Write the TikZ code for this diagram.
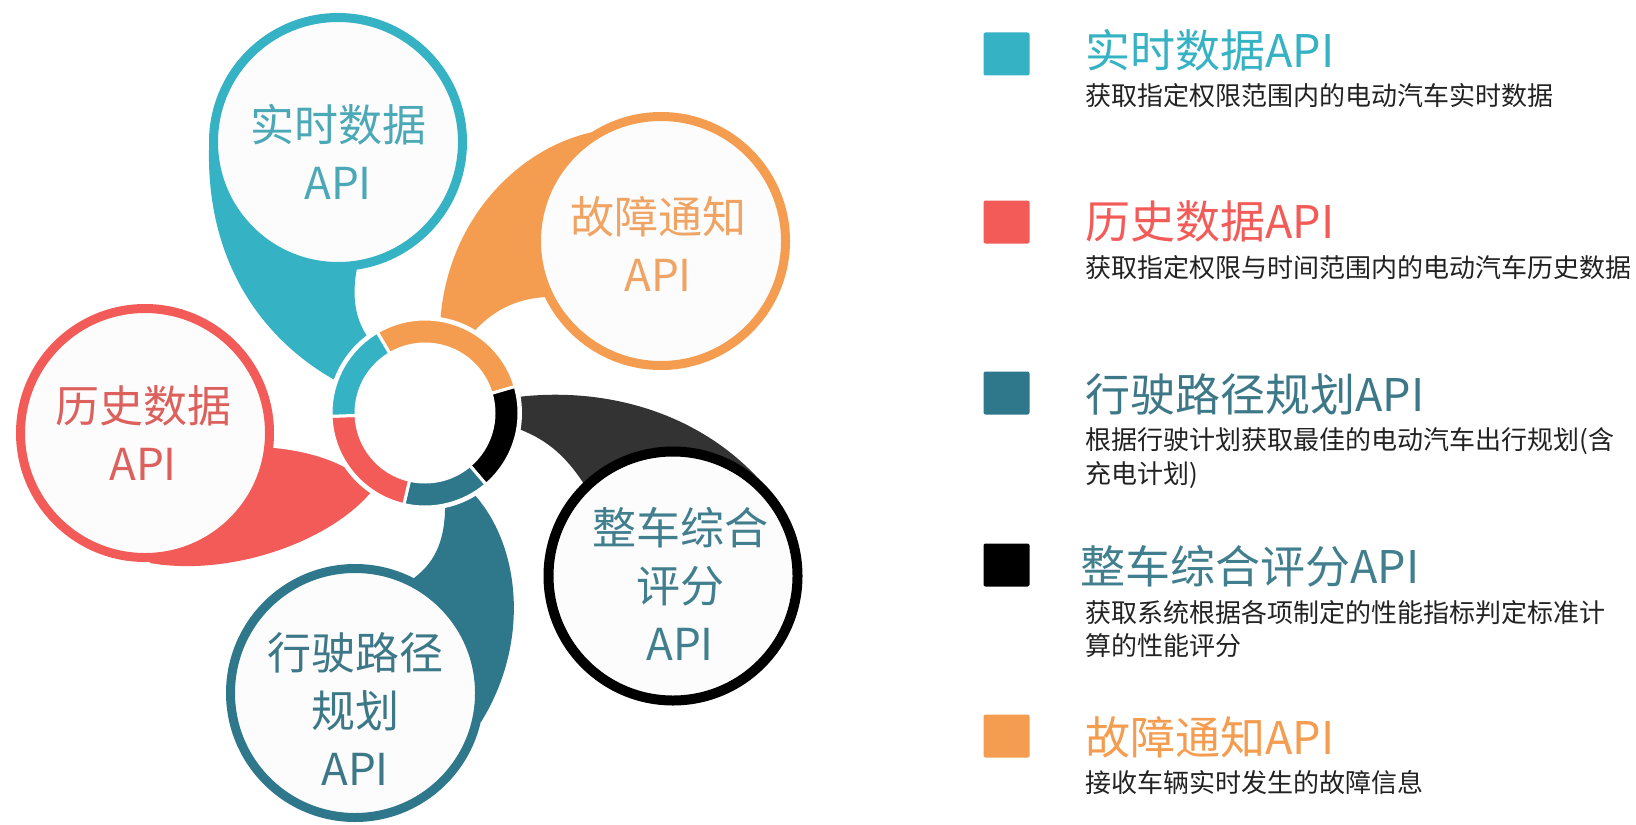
\documentclass[tikz,border=0pt]{standalone}
\usepackage{fontspec}
\setmainfont{Noto Sans CJK SC}
\definecolor{cTeal}{HTML}{35B2C3}
\definecolor{cTealTxt}{HTML}{4AA8B7}
\definecolor{cOrange}{HTML}{F49D50}
\definecolor{cOrangeTxt}{HTML}{EFA464}
\definecolor{cRed}{HTML}{F25B57}
\definecolor{cRedTxt}{HTML}{DC605C}
\definecolor{cDeep}{HTML}{2F788C}
\definecolor{cDeepTxt}{HTML}{3D7888}
\definecolor{cGrey}{HTML}{333333}
\definecolor{cScoreTxt}{HTML}{417E8E}
\definecolor{cFill}{HTML}{FCFCFC}
\definecolor{cDesc}{HTML}{222222}
\begin{document}
\begin{tikzpicture}[x=0.5pt,y=-0.5pt,
  bubble/.style={circle, minimum size=124.5pt, inner sep=0pt, line width=4.5pt,
    fill=cFill},
  bubtext/.style={inner sep=0pt, align=center, font=\fontsize{22pt}{29pt}\selectfont},
  tail/.style={draw=none},
  ringseg/.style={draw=white, line width=1.5pt},
  legsq/.style={rectangle, minimum width=23pt, minimum height=21.5pt,
    inner sep=0pt, rounded corners=1pt},
  legtitle/.style={anchor=west, inner sep=0pt, font=\fontsize{22.5pt}{27pt}\selectfont},
  legdesc/.style={anchor=west, inner sep=0pt, text=cDesc, font=\fontsize{13pt}{16pt}\selectfont}]

% canvas
\fill[white] (0,0) rectangle (1636,824);
\useasboundingbox (0,0) rectangle (1636,824);

% centres
\coordinate (hub) at (425,413);
\coordinate (pRT) at (338,142);
\coordinate (pFT) at (661,241);
\coordinate (pHD) at (145,433);
\coordinate (pZC) at (673,576);
\coordinate (pXS) at (355,693);

% tails sweeping from each bubble into the hub
\fill[cTeal, tail] (pRT) -- (209,150) .. controls (207,262) and (262,342) .. (342,384)
  -- (hub) -- (380,352) .. controls (358,330) and (350,305) .. (357,268) -- cycle;
\fill[cOrange, tail] (pFT) -- (598,131) .. controls (520,145) and (445,220) .. (440,326)
  -- (hub) -- (470,336) .. controls (490,312) and (515,298) .. (548,297) -- cycle;
\fill[cGrey, tail] (pZC) -- (765,486) .. controls (700,410) and (600,385) .. (510,398)
  -- (hub) -- (510,426) .. controls (545,437) and (565,455) .. (584,484) -- cycle;
\fill[cDeep, tail] (pXS) -- (481,722) .. controls (532,640) and (520,540) .. (470,490)
  -- (hub) -- (445,500) .. controls (446,535) and (438,560) .. (414,578) -- cycle;
\fill[cRed, tail] (pHD) -- (274,448) .. controls (315,452) and (350,465) .. (366,484)
  -- (hub) -- (372,491) .. controls (330,542) and (230,577) .. (150,563) -- cycle;

% white gap around the hub ring
\fill[white] (hub) circle[radius=97];

% hub ring segments
\begin{scope}[shift={(hub)}]
  \fill[cOrange, ringseg] (-120.6:94) arc[start angle=-120.6, end angle=-16.4, radius=94]
    -- (-16.4:69) arc[start angle=-16.4, end angle=-120.6, radius=69] -- cycle;
  \fill[black, ringseg] (-16.4:94) arc[start angle=-16.4, end angle=49.5, radius=94]
    -- (49.5:69) arc[start angle=49.5, end angle=-16.4, radius=69] -- cycle;
  \fill[cDeep, ringseg] (49.5:94) arc[start angle=49.5, end angle=103, radius=94]
    -- (103:69) arc[start angle=103, end angle=49.5, radius=69] -- cycle;
  \fill[cRed, ringseg] (103:94) arc[start angle=103, end angle=178, radius=94]
    -- (178:69) arc[start angle=178, end angle=103, radius=69] -- cycle;
  \fill[cTeal, ringseg] (178:94) arc[start angle=178, end angle=239.4, radius=94]
    -- (239.4:69) arc[start angle=239.4, end angle=178, radius=69] -- cycle;
\end{scope}

% bubbles
\node[bubble, draw=cTeal] (rt) at (pRT) {};
\node[bubble, draw=cOrange] (ft) at (pFT) {};
\node[bubble, draw=cRed] (hd) at (pHD) {};
\node[bubble, draw=black, line width=5pt] (zc) at (pZC) {};
\node[bubble, draw=cDeep] (xs) at (pXS) {};

% bubble captions
\node[bubtext, text=cTealTxt] (rtl) at (338,152) {实时数据\\API};
\node[bubtext, text=cOrangeTxt] (ftl) at (658,244) {故障通知\\API};
\node[bubtext, text=cRedTxt] (hdl) at (143,433) {历史数据\\API};
\node[bubtext, text=cScoreTxt] (zcl) at (680,584) {整车综合\\评分\\API};
\node[bubtext, text=cDeepTxt] (xsl) at (355,709) {行驶路径\\规划\\API};

% legend
\node[legsq, fill=cTeal] (sq1) at (1006.5,54) {};
\node[legtitle, text=cTeal] (t1) at (1085,50) {实时数据API};
\node[legdesc] (d1) at (1085,96) {获取指定权限范围内的电动汽车实时数据};

\node[legsq, fill=cRed] (sq2) at (1006.5,222) {};
\node[legtitle, text=cRed] (t2) at (1085,221) {历史数据API};
\node[legdesc] (d2) at (1085,268) {获取指定权限与时间范围内的电动汽车历史数据};

\node[legsq, fill=cDeep] (sq3) at (1006.5,393) {};
\node[legtitle, text=cDeepTxt] (t3) at (1085,394) {行驶路径规划API};
\node[legdesc] (d3a) at (1085,441) {根据行驶计划获取最佳的电动汽车出行规划(含};
\node[legdesc] (d3b) at (1085,475) {充电计划)};

\node[legsq, fill=black] (sq4) at (1006.5,565) {};
\node[legtitle, text=cScoreTxt] (t4) at (1080,566) {整车综合评分API};
\node[legdesc] (d4a) at (1085,613) {获取系统根据各项制定的性能指标判定标准计};
\node[legdesc] (d4b) at (1085,646) {算的性能评分};

\node[legsq, fill=cOrange] (sq5) at (1006.5,736) {};
\node[legtitle, text=cOrange] (t5) at (1085,737) {故障通知API};
\node[legdesc] (d5) at (1085,783) {接收车辆实时发生的故障信息};
\end{tikzpicture}
\end{document}
